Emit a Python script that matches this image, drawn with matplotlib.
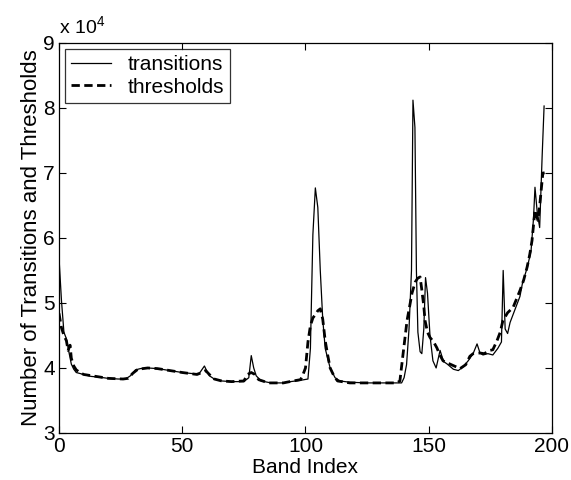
import matplotlib
matplotlib.use("Agg")
import matplotlib.pyplot as plt
from matplotlib.ticker import FuncFormatter

plt.rcParams['font.family'] = ['Liberation Sans', 'DejaVu Sans']
plt.rcParams['mathtext.fontset'] = 'custom'
plt.rcParams['mathtext.rm'] = 'Liberation Sans'

# values in units of 10^4
trans_x = [0, 1, 2, 3, 4, 5, 6, 7, 8, 10, 13, 16, 20, 24, 27, 29, 31, 33, 36, 40,
           45, 50, 55, 57, 59, 60, 61, 63, 66, 70, 75, 77, 78, 79, 80, 82, 86, 91, 94, 98,
           101, 102, 103, 104, 105, 106, 107, 108, 110, 112, 114, 118, 125, 133, 139,
           140, 141, 142, 143, 143.6, 144.4, 145, 145.6, 146.5, 147.2, 148, 148.7, 149.5,
           150.5, 151.7, 153, 154.6, 156, 157.5, 160, 162, 164, 166, 168, 169.6, 170.8,
           172, 174, 176, 178, 179.5, 180.2, 181, 182, 183, 185, 187, 188, 190, 191.5,
           192.5, 193.1, 194, 195, 196, 196.8]
trans_y = [5.70, 5.04, 4.55, 4.45, 4.25, 4.06, 3.98, 3.93, 3.92, 3.90, 3.87, 3.86, 3.84,
           3.83, 3.83, 3.88, 3.97, 3.99, 4.00, 3.99, 3.96, 3.93, 3.91, 3.92, 4.03, 3.95,
           3.88, 3.83, 3.80, 3.79, 3.79, 3.85, 4.19, 4.00, 3.88, 3.80, 3.77, 3.77, 3.79,
           3.81, 3.83, 4.30, 6.05, 6.77, 6.47, 5.50, 4.75, 4.30, 4.00, 3.85, 3.80, 3.78,
           3.77, 3.77, 3.77, 3.85, 4.05, 4.60, 5.50, 8.12, 7.70, 5.50, 4.55, 4.25, 4.22,
           4.60, 5.39, 5.15, 4.50, 4.11, 4.00, 4.27, 4.10, 4.06, 3.98, 3.96, 4.02, 4.11,
           4.22, 4.37, 4.23, 4.20, 4.22, 4.20, 4.30, 4.40, 5.50, 4.60, 4.53, 4.70, 4.90,
           5.10, 5.30, 5.55, 5.80, 6.30, 6.78, 6.40, 6.16, 7.25, 8.03]

thr_x = [0, 1, 2, 3, 3.7, 4.5, 5, 6, 7, 8.5, 10, 15, 20, 26, 28, 30, 32, 36, 40, 45,
         50, 56, 58, 59.5, 61, 63, 66, 70, 75, 76.5, 78, 79.5, 81, 85, 91, 95, 98, 99,
         100, 101, 102, 103, 104, 105, 106, 107, 108, 109, 110, 111.5, 113, 118, 125,
         132, 137, 138.3, 139.6, 141.2, 142.5, 143.2, 144.5, 145.5, 146.5, 147.2, 148,
         148.5, 149.5, 150.5, 152, 153.3, 154.5, 155.8, 158.6, 162.7, 165, 166.7, 168,
         170.8, 172.5, 174.8, 176, 177.7, 179, 180.1, 182, 184.2, 185.5, 187, 188.5,
         189.9, 191, 191.9, 193.1, 194.3, 195.1, 196.3, 197]
thr_y = [4.84, 4.62, 4.50, 4.42, 4.27, 4.35, 4.15, 4.03, 3.97, 3.93, 3.90, 3.87, 3.84,
         3.83, 3.84, 3.92, 3.98, 4.00, 3.99, 3.96, 3.93, 3.90, 3.93, 3.96, 3.90, 3.83,
         3.80, 3.79, 3.80, 3.90, 3.93, 3.90, 3.82, 3.77, 3.77, 3.80, 3.82, 3.90, 4.00,
         4.40, 4.65, 4.77, 4.82, 4.88, 4.91, 4.75, 4.42, 4.20, 4.00, 3.88, 3.80, 3.77,
         3.77, 3.77, 3.77, 3.80, 4.22, 4.73, 5.00, 5.15, 5.32, 5.38, 5.40, 5.20, 4.95,
         4.73, 4.55, 4.47, 4.40, 4.31, 4.20, 4.11, 4.06, 3.99, 4.05, 4.18, 4.22, 4.23,
         4.22, 4.27, 4.28, 4.42, 4.55, 4.73, 4.85, 4.93, 5.05, 5.19, 5.35, 5.55, 5.75,
         5.96, 6.43, 6.27, 6.53, 7.00, 7.00]

fig = plt.figure(figsize=(5.71, 4.8), dpi=100)
ax = fig.add_axes([0.1033, 0.098, 0.8634, 0.8125])

ax.plot(trans_x, trans_y, color='black', lw=0.9, label='transitions')
ax.plot(thr_x, thr_y, color='black', lw=2.0, ls=(0, (3, 1.6)), label='thresholds')

ax.set_xlim(0, 200)
ax.set_ylim(3, 9)
ax.set_xticks([0, 50, 100, 150, 200])
ax.set_yticks([3, 4, 5, 6, 7, 8, 9])
ax.yaxis.set_major_formatter(FuncFormatter(lambda v, p: '%d' % v))
ax.tick_params(direction='in', top=True, right=True, labelsize=15, length=5, width=0.8, pad=3)
for s in ax.spines.values():
    s.set_linewidth(0.9)

ax.set_xlabel('Band Index', fontsize=15, labelpad=1)
ax.set_ylabel('Number of Transitions and Thresholds', fontsize=16, labelpad=1)
ax.text(0.0, 1.012, 'x 10$^4$', transform=ax.transAxes, fontsize=14, ha='left', va='bottom')

leg = ax.legend(loc='upper left', fontsize=15, frameon=True, fancybox=False,
                edgecolor='black', handlelength=1.9, handletextpad=0.8,
                borderaxespad=0.3, labelspacing=0.15, borderpad=0.3)
leg.get_frame().set_linewidth(0.9)

fig.savefig('out.png', dpi=100)
